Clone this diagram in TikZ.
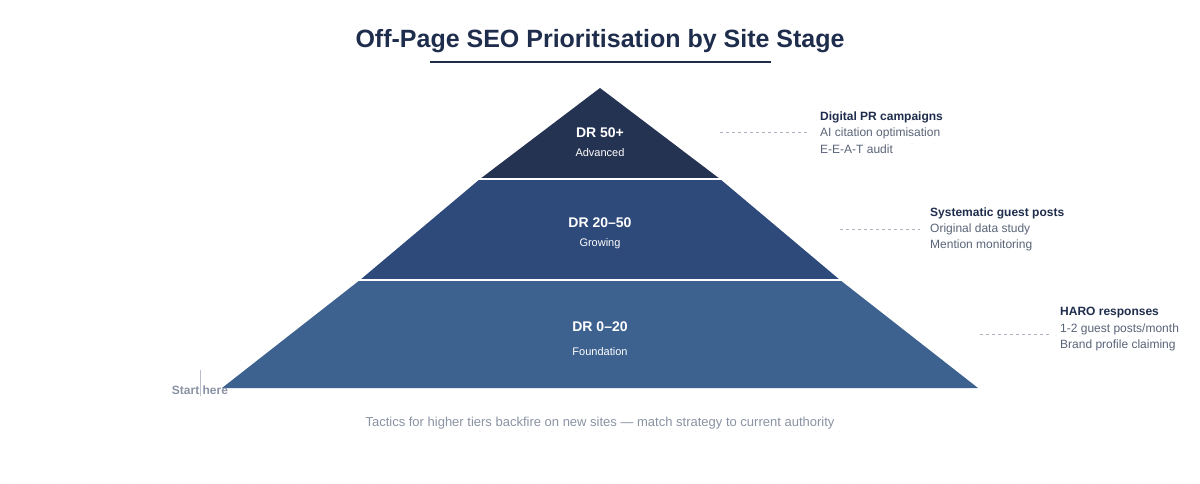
\documentclass[tikz,border=0pt]{standalone}
\usepackage{fontspec}
\setmainfont{Liberation Sans}
\usetikzlibrary{positioning}
\definecolor{navy}{HTML}{1F2D4D}
\definecolor{tiertop}{HTML}{253352}
\definecolor{tiermid}{HTML}{2E4A7A}
\definecolor{tierlow}{HTML}{3D6290}
\definecolor{greytext}{HTML}{5A6478}
\definecolor{softgrey}{HTML}{8A93A3}
\tikzstyle{tier} = [draw=white, line width=2pt]
\tikzstyle{tiername} = [text=white, font=\bfseries\fontsize{14}{16}\selectfont]
\tikzstyle{tiersub} = [text=white, font=\fontsize{11}{13}\selectfont]
\tikzstyle{tactic} = [anchor=west, inner sep=0pt, text=greytext, font=\fontsize{12}{14}\selectfont]
\tikzstyle{tacticmain} = [tactic, text=navy, font=\bfseries\fontsize{12}{14}\selectfont]
\tikzstyle{leader} = [draw=softgrey!70, dashed, line width=0.8pt]
\begin{document}
\begin{tikzpicture}[x=1pt,y=-1pt]
\useasboundingbox[fill=white] (0,0) rectangle (1200,484);
% dot grid
\foreach \i in {0,...,50}
  \foreach \j in {0,...,20}
    \fill[black!8] (24*\i,24*\j) circle (0.9pt);
% title
\node[text=navy, font=\bfseries\fontsize{25}{28}\selectfont] (title) at (600,41) {Off-Page SEO Prioritisation by Site Stage};
\draw[navy, line width=2pt] (430,62) -- (771,62);
% tiers
\fill[tierlow] (360,280) -- (840,280) -- (978,388) -- (222,388) -- cycle;
\fill[tiermid] (480,179) -- (720,179) -- (840,280) -- (360,280) -- cycle;
\fill[tiertop] (600,88) -- (720,179) -- (480,179) -- cycle;
\draw[tier] (478,179) -- (722,179);
\draw[tier] (358,280) -- (842,280);
\node[tiername] (top) at (600,133) {DR 50+};
\node[tiersub] (topsub) at (600,153) {Advanced};
\node[tiername] (mid) at (600,223) {DR 20–50};
\node[tiersub] (midsub) at (600,244) {Growing};
\node[tiername] (low) at (600,327) {DR 0–20};
\node[tiersub] (lowsub) at (600,352) {Foundation};
% tactics
\coordinate (ta) at (720,132);
\node[tacticmain] (a1) at (820,117) {Digital PR campaigns};
\node[tactic] (a2) at (820,133) {AI citation optimisation};
\node[tactic] (a3) at (820,149) {E-E-A-T audit};
\draw[leader] (ta) -- (808,132);
\coordinate (tb) at (840,229);
\node[tacticmain] (b1) at (930,213) {Systematic guest posts};
\node[tactic] (b2) at (930,229) {Original data study};
\node[tactic] (b3) at (930,245) {Mention monitoring};
\draw[leader] (tb) -- (920,229);
\coordinate (tc) at (980,334);
\node[tacticmain] (c1) at (1060,313) {HARO responses};
\node[tactic] (c2) at (1060,329) {1-2 guest posts/month};
\node[tactic] (c3) at (1060,345) {Brand profile claiming};
\draw[leader] (tc) -- (1050,334);
% start marker
\draw[softgrey!60, line width=1pt] (200,370) -- (200,396);
\node[text=softgrey, font=\bfseries\fontsize{12}{14}\selectfont] (start) at (200,390) {Start here};
% caption
\node[text=softgrey, font=\fontsize{13}{15}\selectfont] (note) at (600,423) {Tactics for higher tiers backfire on new sites — match strategy to current authority};
\end{tikzpicture}
\end{document}
